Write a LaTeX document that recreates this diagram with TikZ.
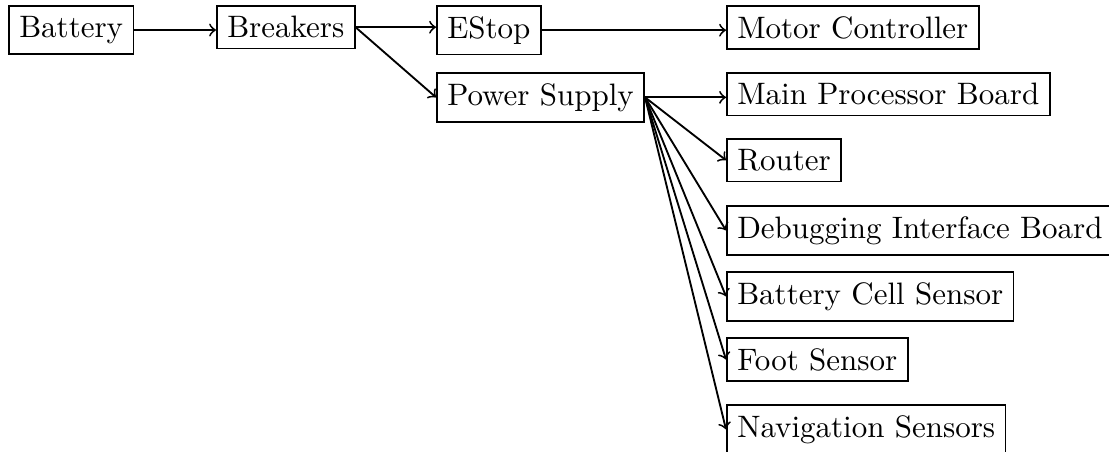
\documentclass[tikz,border=0pt]{standalone}
\begin{document}
\begin{tikzpicture}[
  x=0.3226pt, y=-0.3226pt,
  semithick,
  box/.style={draw, anchor=north west},
  link/.style={->}
]
\useasboundingbox (0,0) rectangle (1109,452);

% power path, top row
\node[box] (battery)  at (8,5)    {Battery};
\node[box] (breakers) at (216,5)  {Breakers};
\node[box] (estop)    at (436,5)  {EStop};
\node[box] (motor)    at (726,5)  {Motor Controller};

% supply branch
\node[box] (psu)      at (436,72) {Power Supply};
\node[box] (mainpb)   at (726,72)  {Main Processor Board};
\node[box] (router)   at (726,138) {Router};
\node[box] (debug)    at (726,205) {Debugging Interface Board};
\node[box] (cells)    at (726,271) {Battery Cell Sensor};
\node[box] (foot)     at (726,337) {Foot Sensor};
\node[box] (nav)      at (726,404) {Navigation Sensors};

% connections
\draw[link] (battery.east)  -- (battery.east -| breakers.west);
\draw[link] (breakers.east) -- (breakers.east -| estop.west);
\draw[link] (breakers.east) -- (psu.west);
\draw[link] (estop.east)    -- (estop.east -| motor.west);
\draw[link] (psu.east) -- (psu.east -| mainpb.west);
\draw[link] (psu.east) -- (router.west);
\draw[link] (psu.east) -- (debug.west);
\draw[link] (psu.east) -- (cells.west);
\draw[link] (psu.east) -- (foot.west);
\draw[link] (psu.east) -- (nav.west);
\end{tikzpicture}
\end{document}
